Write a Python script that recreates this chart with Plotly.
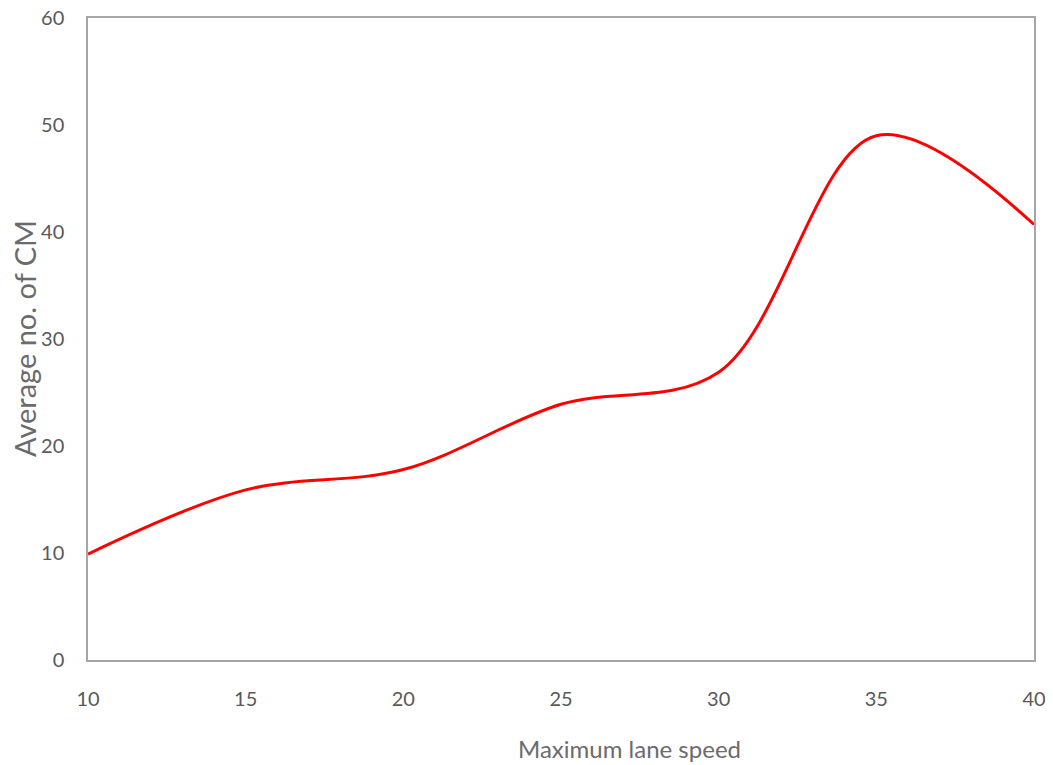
import plotly.graph_objects as go

speed = [10, 15, 20, 25, 30, 35, 40]
avg_cm = [9.9, 15.9, 17.8, 23.9, 26.9, 49.0, 40.7]

x_ticks = [10, 15, 20, 25, 30, 35, 40]
y_ticks = [0, 10, 20, 30, 40, 50, 60]

font_family = "Lato, Roboto, Arial"
gray = "#595959"
title_gray = "#6b6b6b"

fig = go.Figure()
fig.add_trace(go.Scatter(
    x=speed, y=avg_cm, mode="lines",
    line=dict(color="#ff0000", width=3, shape="spline", smoothing=1.0),
    showlegend=False,
))

# page body has an 8px margin, so the figure is drawn 8px right and down
fig.update_layout(
    width=1053, height=765,
    margin=dict(l=80, r=27, t=10, b=113),
    paper_bgcolor="white", plot_bgcolor="white",
    font=dict(family=font_family, color=gray, size=20),
)
fig.update_xaxes(
    range=[10, 40], tickvals=x_ticks, showgrid=False, zeroline=False,
    showline=True, linecolor="#a6a6a6", linewidth=1.5, mirror=True,
    ticks="", ticklabelstandoff=20, automargin=False,
    ticklabeloverflow="allow",
)
fig.update_yaxes(
    range=[0, 60], tickvals=y_ticks, showgrid=False, zeroline=False,
    showline=True, linecolor="#a6a6a6", linewidth=1.5, mirror=True,
    ticks="", ticklabelstandoff=18, automargin=False,
    ticklabeloverflow="allow",
)
fig.add_annotation(
    text="Maximum lane speed", xref="paper", yref="paper",
    x=0.572, y=0, yshift=-88, xanchor="center", yanchor="middle",
    showarrow=False, font=dict(size=24, color=title_gray),
)
fig.add_annotation(
    text="Average no. of CM", xref="paper", yref="paper",
    x=0, y=0.5, xshift=-64, xanchor="center", yanchor="middle",
    textangle=-90, showarrow=False, font=dict(size=29, color=title_gray),
)

fig.write_html("out.html")
